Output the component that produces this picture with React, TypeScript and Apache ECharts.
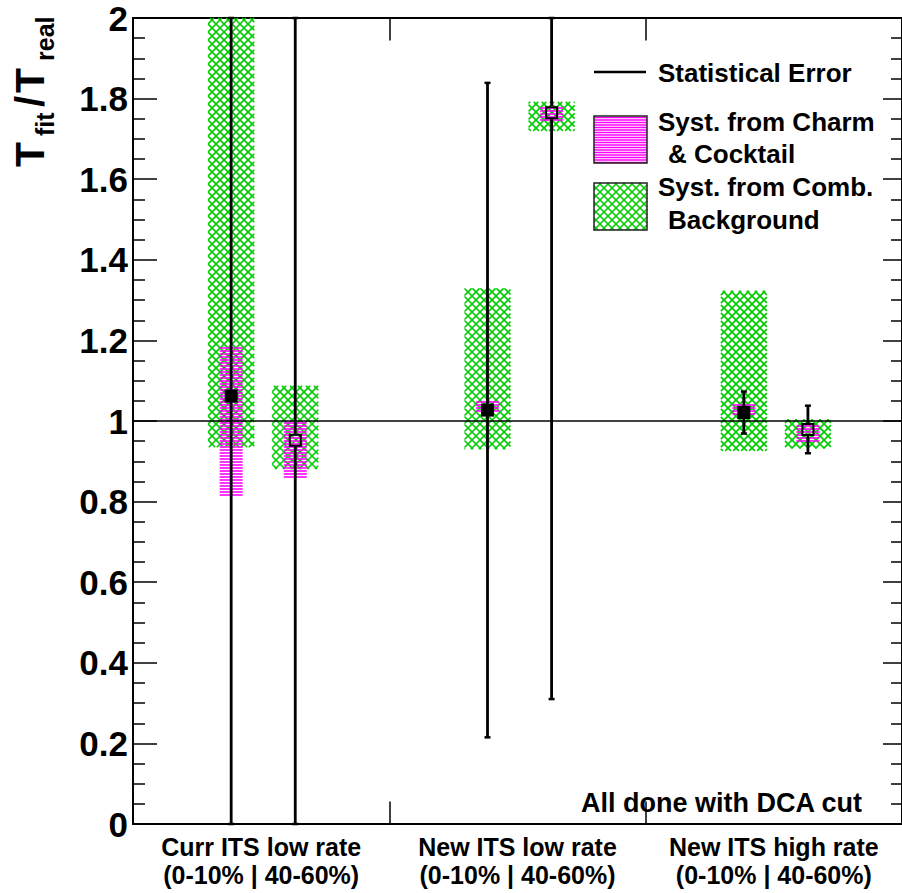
import React, { useEffect, useRef } from 'react';
import * as echarts from 'echarts';

// ---------------- data ----------------
const categories = ['Curr ITS low rate', 'New ITS low rate', 'New ITS high rate'];
const centralityLabel = '(0-10% | 40-60%)';
const centralities = ['0-10%', '40-60%'];
// T_fit / T_real per category, [0-10%, 40-60%]
const ratio = [
  [1.062, 0.952],
  [1.027, 1.765],
  [1.021, 0.979],
];
// symmetric statistical error
const statError = [
  [1.2, 1.2],
  [0.812, 1.455],
  [0.052, 0.059],
];
// systematic band from charm & cocktail: [low, high]
const systCharm = [
  [[0.812, 1.183], [0.856, 1.002]],
  [[1.02, 1.048], [1.74, 1.784]],
  [[1.013, 1.041], [0.947, 0.994]],
];
// systematic band from combinatorial background: [low, high]
const systComb = [
  [[0.935, 2.3], [0.881, 1.087]],
  [[0.93, 1.329], [1.72, 1.792]],
  [[0.926, 1.323], [0.932, 1.004]],
];
const referenceLevel = 1;
const yMin = 0;
const yMax = 2;
const yStep = 0.2;
const legendLabels = ['Statistical Error', 'Syst. from Charm', ' & Cocktail', 'Syst. from Comb.', ' Background'];
const noteText = 'All done with DCA cut';

// ---------------- style / layout ----------------
const FONT = '"Liberation Sans", Arial, Helvetica, sans-serif';
const GREEN = '#00cc00';
const MAGENTA = '#ff00ff';
const slotOffset = [0.383, 0.633];
const COMB_W = 46;
const CHARM_W = 23;
const MARK = 13;
const CAP = 6;
const X_TICK_LEN = 0.056; // in y units (~22 px)

function crossLines(x0: number, y0: number, x1: number, y1: number, sp: number, color: string, lw: number) {
  const out: any[] = [];
  if (x1 <= x0 || y1 <= y0) return out;
  const st = { stroke: color, lineWidth: lw };
  let kmin = Math.floor((x0 - y1) / sp);
  let kmax = Math.ceil((x1 - y0) / sp);
  for (let k = kmin; k <= kmax; k++) {
    const c = k * sp;
    const xa = Math.max(x0, y0 + c);
    const xb = Math.min(x1, y1 + c);
    if (xb > xa) out.push({ type: 'line', silent: true, shape: { x1: xa, y1: xa - c, x2: xb, y2: xb - c }, style: st });
  }
  kmin = Math.floor((x0 + y0) / sp);
  kmax = Math.ceil((x1 + y1) / sp);
  for (let k = kmin; k <= kmax; k++) {
    const c = k * sp;
    const xa = Math.max(x0, c - y1);
    const xb = Math.min(x1, c - y0);
    if (xb > xa) out.push({ type: 'line', silent: true, shape: { x1: xa, y1: c - xa, x2: xb, y2: c - xb }, style: st });
  }
  return out;
}

function horizLines(x0: number, y0: number, x1: number, y1: number, sp: number, color: string, lw: number) {
  const out: any[] = [];
  if (x1 <= x0 || y1 <= y0) return out;
  for (let y = Math.ceil(y0 / sp) * sp; y <= y1; y += sp) {
    out.push({ type: 'line', silent: true, shape: { x1: x0, y1: y, x2: x1, y2: y }, style: { stroke: color, lineWidth: lw } });
  }
  return out;
}

function bandRenderer(kind: 'cross' | 'horiz', width: number) {
  return (params: any, api: any) => {
    const x = api.value(0);
    const lo = api.value(1);
    const hi = api.value(2);
    const cs = params.coordSys;
    const pLo = api.coord([x, lo]);
    const pHi = api.coord([x, hi]);
    const x0 = pLo[0] - width / 2;
    const x1 = pLo[0] + width / 2;
    const y0 = Math.max(pHi[1], cs.y);
    const y1 = Math.min(pLo[1], cs.y + cs.height);
    const children = kind === 'cross'
      ? crossLines(x0, y0, x1, y1, 8, GREEN, 1.6)
      : horizLines(x0, y0, x1, y1, 3, MAGENTA, 1.6);
    return { type: 'group', children };
  };
}

const renderStat = (params: any, api: any) => {
  const x = api.value(0);
  const y = api.value(1);
  const e = api.value(2);
  const open = api.value(3) === 1;
  const cs = params.coordSys;
  const top = cs.y;
  const bot = cs.y + cs.height;
  const pc = api.coord([x, y]);
  const yHi = Math.max(top, Math.min(bot, api.coord([x, y + e])[1]));
  const yLo = Math.max(top, Math.min(bot, api.coord([x, y - e])[1]));
  const gap = open ? MARK / 2 : 0;
  const st = { stroke: '#000', lineWidth: 2.8 };
  const children: any[] = [
    { type: 'line', shape: { x1: pc[0], y1: yHi, x2: pc[0], y2: pc[1] - gap }, style: st },
    { type: 'line', shape: { x1: pc[0], y1: pc[1] + gap, x2: pc[0], y2: yLo }, style: st },
    { type: 'line', shape: { x1: pc[0] - CAP / 2, y1: yHi, x2: pc[0] + CAP / 2, y2: yHi }, style: { stroke: '#000', lineWidth: 2.5 } },
    { type: 'line', shape: { x1: pc[0] - CAP / 2, y1: yLo, x2: pc[0] + CAP / 2, y2: yLo }, style: { stroke: '#000', lineWidth: 2.5 } },
  ];
  return { type: 'group', children };
};

function buildOption() {
  const combData: number[][] = [];
  const charmData: number[][] = [];
  const statData: number[][] = [];
  const filled: number[][] = [];
  const openPts: number[][] = [];
  categories.forEach((_, i) => {
    centralities.forEach((__, j) => {
      const x = i + slotOffset[j];
      combData.push([x, systComb[i][j][0], systComb[i][j][1]]);
      charmData.push([x, systCharm[i][j][0], systCharm[i][j][1]]);
      statData.push([x, ratio[i][j], statError[i][j], j]);
      (j === 0 ? filled : openPts).push([x, ratio[i][j]]);
    });
  });
  // boundaries between category bins -> inside ticks on top and bottom frame
  const binEdges = categories.slice(1).map((_, i) => i + 1);
  const tickSegments: any[] = [];
  binEdges.forEach((b) => {
    tickSegments.push([{ coord: [b, yMin] }, { coord: [b, yMin + X_TICK_LEN] }]);
    tickSegments.push([{ coord: [b, yMax] }, { coord: [b, yMax - X_TICK_LEN] }]);
  });

  const axisLine = { show: true, onZero: false, lineStyle: { color: '#000', width: 2 } };
  const tickStyle = { color: '#000', width: 1.5 };

  // legend graphics
  const lg: any[] = [];
  lg.push({ type: 'line', shape: { x1: 594, y1: 72, x2: 646, y2: 72 }, style: { stroke: '#000', lineWidth: 2.5 } });
  horizLines(594, 116, 647, 163, 2.5, MAGENTA, 1.3).forEach((l) => lg.push(l));
  lg.push({ type: 'rect', shape: { x: 594, y: 116, width: 53, height: 47 }, style: { fill: 'none', stroke: '#222', lineWidth: 1.5 } });
  crossLines(594, 183, 647, 230, 8, GREEN, 1.6).forEach((l) => lg.push(l));
  lg.push({ type: 'rect', shape: { x: 594, y: 183, width: 53, height: 47 }, style: { fill: 'none', stroke: '#222', lineWidth: 1.5 } });
  const lgText = (t: string, x: number, y: number) => ({
    type: 'text', x, y,
    style: { text: t, fill: '#000', font: `bold 26px ${FONT}`, align: 'left', verticalAlign: 'middle' },
  });
  lg.push(lgText(legendLabels[0], 658, 73));
  lg.push(lgText(legendLabels[1].trim(), 658, 122));
  lg.push(lgText(legendLabels[2].trim(), 668, 154));
  lg.push(lgText(legendLabels[3].trim(), 658, 187));
  lg.push(lgText(legendLabels[4].trim(), 668, 220));

  const titleT = (t: string, x: number, y: number, size: number) => ({
    type: 'text', x, y,
    style: { text: t, fill: '#000', font: `bold ${size}px ${FONT}`, align: 'left', verticalAlign: 'middle' },
  });

  return {
    animation: false,
    backgroundColor: '#fff',
    grid: { left: 133, top: 18, width: 769, height: 806, containLabel: false, outerBoundsMode: 'none' },
    xAxis: [
      {
        type: 'value', position: 'bottom', min: 0, max: categories.length, interval: 1,
        axisLine, axisTick: { show: false },
        axisLabel: { show: false }, splitLine: { show: false },
      },
      {
        type: 'value', position: 'top', min: 0, max: categories.length, interval: 1,
        axisLine, axisTick: { show: false },
        axisLabel: { show: false }, splitLine: { show: false },
      },
      {
        type: 'category', position: 'bottom', data: categories.map((c) => c + '\n' + centralityLabel),
        axisLine: { show: false, onZero: false },
        axisTick: { show: false },
        splitLine: { show: false },
        axisLabel: {
          interval: 0, color: '#000', fontSize: 25, fontWeight: 'bold', fontFamily: FONT,
          lineHeight: 28, margin: 9,
        },
      },
    ],
    yAxis: [
      {
        type: 'value', position: 'left', min: yMin, max: yMax, interval: yStep,
        axisLine, axisTick: { show: true, inside: true, length: 24, lineStyle: tickStyle },
        minorTick: { show: true, splitNumber: 4, length: 12, lineStyle: tickStyle },
        axisLabel: { color: '#000', fontSize: 35, fontWeight: 'bold', fontFamily: FONT, margin: 5 },
        splitLine: { show: false }, minorSplitLine: { show: false },
      },
      {
        type: 'value', position: 'right', min: yMin, max: yMax, interval: yStep,
        axisLine, axisTick: { show: true, inside: true, length: 19, lineStyle: tickStyle },
        minorTick: { show: true, splitNumber: 4, length: 11, lineStyle: tickStyle },
        axisLabel: { show: false }, splitLine: { show: false }, minorSplitLine: { show: false },
      },
    ],
    graphic: [
      {
        type: 'group', x: 30, y: 167, rotation: Math.PI / 2,
        children: [
          titleT('T', 0, 0, 41),
          titleT('fit', 31, 15, 25),
          titleT('/', 60, 0, 40),
          titleT('T', 74, 0, 41),
          titleT('real', 106, 15, 25),
        ],
      },
      { type: 'group', children: lg },
      {
        type: 'text', x: 862, y: 803,
        style: { text: noteText, fill: '#000', font: `bold 27px ${FONT}`, align: 'right', verticalAlign: 'middle' },
      },
    ],
    series: [
      {
        type: 'custom', name: 'Syst. from Comb. Background', xAxisIndex: 0, yAxisIndex: 0,
        renderItem: bandRenderer('cross', COMB_W), data: combData, silent: true,
      },
      {
        type: 'custom', name: 'Syst. from Charm & Cocktail', xAxisIndex: 0, yAxisIndex: 0,
        renderItem: bandRenderer('horiz', CHARM_W), data: charmData, silent: true,
      },
      {
        type: 'custom', name: 'Statistical Error', xAxisIndex: 0, yAxisIndex: 0,
        renderItem: renderStat, data: statData, silent: true,
        markLine: {
          silent: true, symbol: 'none', label: { show: false },
          lineStyle: { color: '#000', width: 1.5, type: 'solid' },
          data: [{ yAxis: referenceLevel }, ...tickSegments],
        },
      },
      {
        type: 'scatter', name: centralities[0], xAxisIndex: 0, yAxisIndex: 0,
        symbol: 'rect', symbolSize: MARK, data: filled, silent: true,
        itemStyle: { color: '#000', opacity: 1 },
      },
      {
        type: 'scatter', name: centralities[1], xAxisIndex: 0, yAxisIndex: 0,
        symbol: 'rect', symbolSize: MARK - 2, data: openPts, silent: true,
        itemStyle: { color: 'rgba(0,0,0,0)', borderColor: '#000', borderWidth: 2, opacity: 1 },
      },
    ],
  };
}

export default function App() {
  const ref = useRef<HTMLDivElement>(null);
  useEffect(() => {
    if (!ref.current) return;
    const chart = echarts.init(ref.current, null, { renderer: 'svg' });
    chart.setOption(buildOption() as any);
    return () => chart.dispose();
  }, []);
  return (
    <div
      ref={ref}
      style={{ position: 'fixed', left: 0, top: 0, width: 902, height: 893, background: '#fff' }}
    />
  );
}
